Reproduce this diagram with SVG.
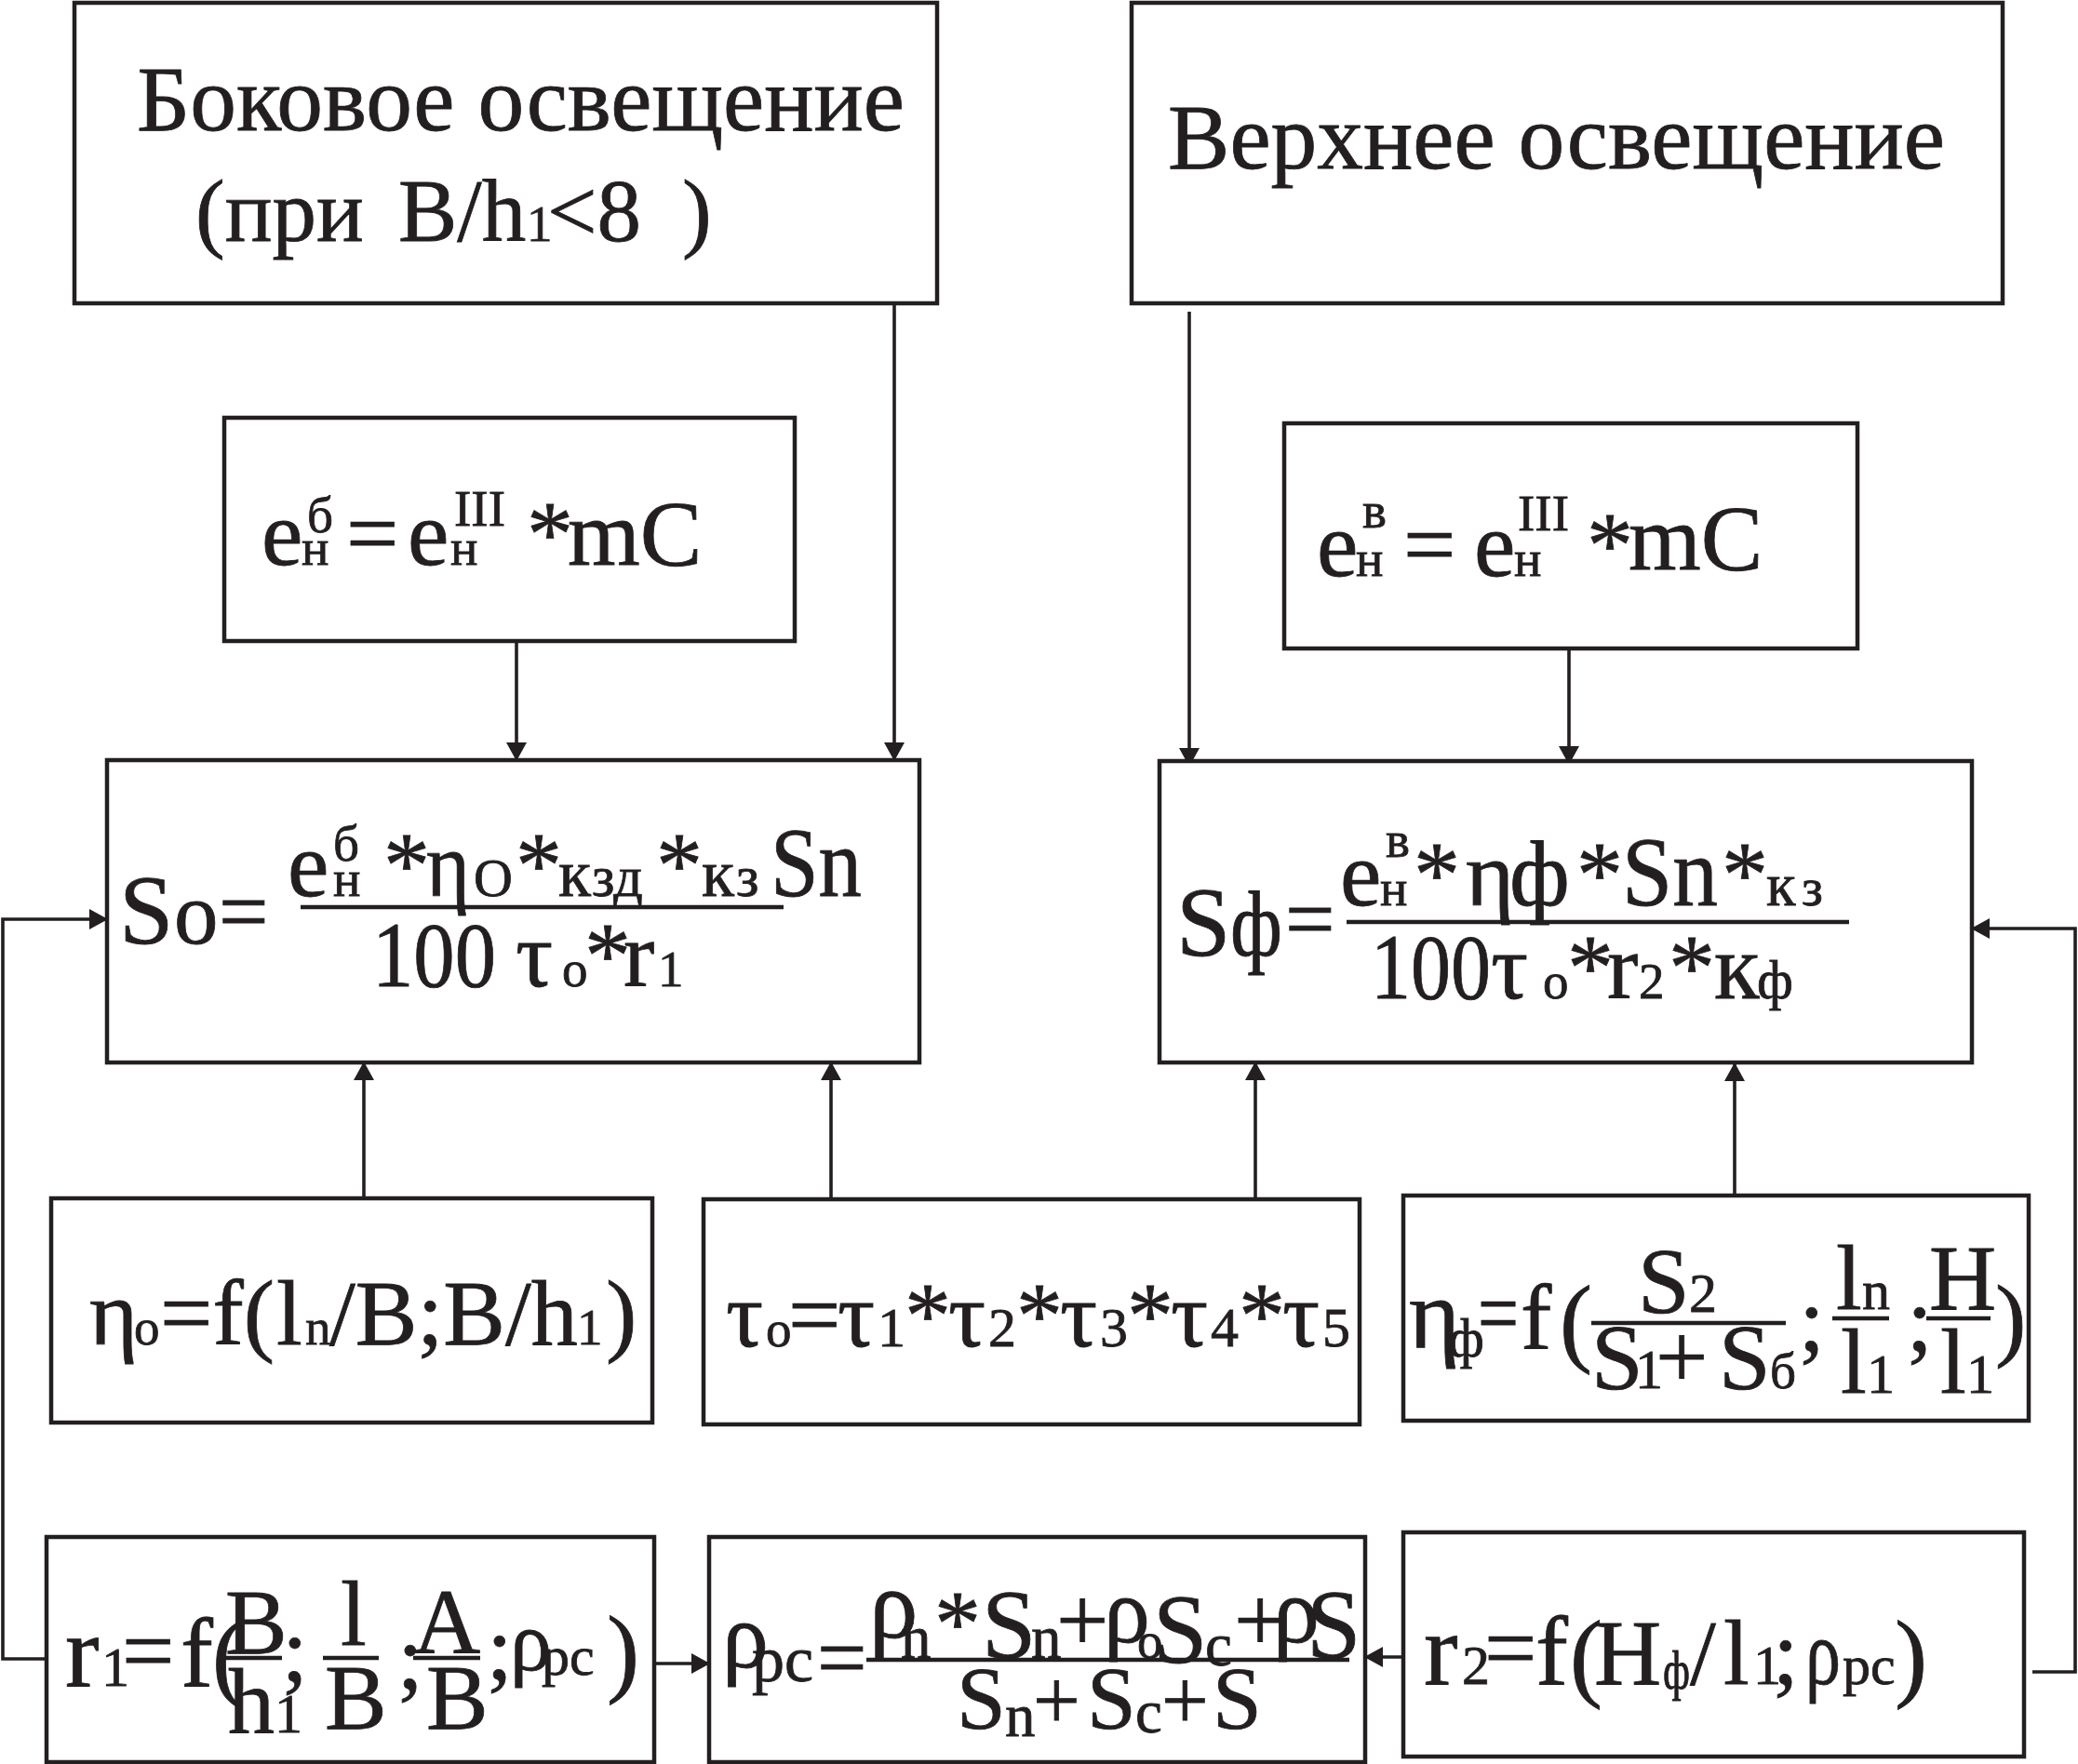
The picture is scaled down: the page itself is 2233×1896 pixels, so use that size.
<svg xmlns="http://www.w3.org/2000/svg" width="2233" height="1896" viewBox="0 0 2233 1896">
<style>
.bx{fill:#fff;stroke:#231f20;stroke-width:4.5}
.t{font-family:"Liberation Serif","Times New Roman",serif;fill:#231f20;stroke:#231f20;stroke-width:0.8}
.c{fill:none;stroke:#231f20;stroke-width:3.6}
.fl{stroke:#231f20;stroke-width:4.5}
</style>
<defs>
<marker id="ah" viewBox="0 0 20 22" markerWidth="20" markerHeight="22" refX="19" refY="11" orient="auto" markerUnits="userSpaceOnUse">
<path d="M0,0 L20,11 L0,22 z" fill="#231f20"/>
</marker>
</defs>
<rect width="2233" height="1896" fill="#fff"/>

<g id="connectors">
<line class="c" x1="961" y1="326" x2="961" y2="817" marker-end="url(#ah)"/>
<line class="c" x1="555" y1="689" x2="555" y2="817" marker-end="url(#ah)"/>
<line class="c" x1="1278" y1="335" x2="1278" y2="823" marker-end="url(#ah)"/>
<line class="c" x1="1686" y1="697" x2="1686" y2="821" marker-end="url(#ah)"/>
<line class="c" x1="391" y1="1288" x2="391" y2="1142" marker-end="url(#ah)"/>
<line class="c" x1="893" y1="1289" x2="893" y2="1142" marker-end="url(#ah)"/>
<line class="c" x1="1349" y1="1289" x2="1349" y2="1142" marker-end="url(#ah)"/>
<line class="c" x1="1864" y1="1285" x2="1864" y2="1143" marker-end="url(#ah)"/>
<polyline class="c" points="50,1783 3,1783 3,988 115,988" marker-end="url(#ah)"/>
<line class="c" x1="703" y1="1788" x2="762" y2="1788" marker-end="url(#ah)"/>
<line class="c" x1="1508" y1="1781" x2="1467" y2="1781" marker-end="url(#ah)"/>
<polyline class="c" points="2184,1797 2230,1797 2230,998 2119,998" marker-end="url(#ah)"/>
</g>

<g id="side-lighting">
<rect class="bx" x="80" y="3" width="927" height="323"/>
<text class="t" x="147" y="140" font-size="100" textLength="825" lengthAdjust="spacingAndGlyphs">Боковое освещение</text>
<text class="t" x="210" y="259" font-size="95">(при</text>
<text class="t" x="428" y="259" font-size="95">B/h</text>
<text class="t" x="566" y="259" font-size="55">1</text>
<text class="t" x="588" y="259" font-size="95">&lt;8</text>
<text class="t" x="733" y="259" font-size="95">)</text>
</g>

<g id="top-lighting">
<rect class="bx" x="1216" y="3" width="936" height="323"/>
<text class="t" x="1255" y="181" font-size="100" textLength="835" lengthAdjust="spacingAndGlyphs">Верхнее освещение</text>
</g>

<g id="e-side">
<rect class="bx" x="241" y="449" width="613" height="240"/>
<text class="t" x="281" y="607" font-size="100">e</text>
<text class="t" x="330" y="572" font-size="55">б</text>
<text class="t" x="324" y="607" font-size="55">н</text>
<text class="t" x="372" y="607" font-size="100">=</text>
<text class="t" x="438" y="607" font-size="100">e</text>
<text class="t" x="488" y="565" font-size="55">III</text>
<text class="t" x="484" y="607" font-size="55">н</text>
<text class="t" x="566" y="607" font-size="100">*</text>
<text class="t" x="610" y="607" font-size="100">mC</text>
</g>

<g id="e-top">
<rect class="bx" x="1380" y="455" width="616" height="242"/>
<text class="t" x="1415" y="619" font-size="100">e</text>
<text class="t" x="1464" y="567" font-size="55">в</text>
<text class="t" x="1457" y="619" font-size="55">н</text>
<text class="t" x="1508" y="619" font-size="100">=</text>
<text class="t" x="1584" y="619" font-size="100">e</text>
<text class="t" x="1631" y="570" font-size="55">III</text>
<text class="t" x="1627" y="619" font-size="55">н</text>
<text class="t" x="1705" y="619" font-size="100">*</text>
<text class="t" x="1750" y="612" font-size="100">mC</text>
</g>

<g id="So">
<rect class="bx" x="115" y="817" width="873" height="325"/>
<text class="t" x="128" y="1014" font-size="105">S</text>
<text class="t" x="187" y="1014" font-size="95">o</text>
<text class="t" x="235" y="1012" font-size="95">=</text>
<text class="t" x="309" y="963" font-size="100">e</text>
<text class="t" x="358" y="925" font-size="55">б</text>
<text class="t" x="358" y="963" font-size="55">н</text>
<text class="t" x="412" y="963" font-size="100">*</text>
<text class="t" x="458" y="963" font-size="100" textLength="47" lengthAdjust="spacingAndGlyphs">η</text>
<text class="t" x="509" y="963" font-size="58">O</text>
<text class="t" x="554" y="963" font-size="100">*</text>
<text class="t" x="600" y="963" font-size="72">к</text>
<text class="t" x="636" y="963" font-size="62">зд</text>
<text class="t" x="705" y="963" font-size="100">*</text>
<text class="t" x="754" y="963" font-size="72">к</text>
<text class="t" x="791" y="963" font-size="62">з</text>
<text class="t" x="828" y="963" font-size="105" textLength="98" lengthAdjust="spacingAndGlyphs">Sn</text>
<line class="fl" x1="323" y1="975" x2="842" y2="975"/>
<text class="t" x="400" y="1060" font-size="100" textLength="133" lengthAdjust="spacingAndGlyphs">100</text>
<text class="t" x="554" y="1060" font-size="100">τ</text>
<text class="t" x="604" y="1060" font-size="55">o</text>
<text class="t" x="628" y="1060" font-size="100">*</text>
<text class="t" x="670" y="1060" font-size="100">r</text>
<text class="t" x="707" y="1060" font-size="55">1</text>
</g>

<g id="Sf">
<rect class="bx" x="1246" y="818" width="873" height="324"/>
<text class="t" x="1264" y="1027" font-size="105">S</text>
<text class="t" x="1322" y="1027" font-size="100" textLength="56" lengthAdjust="spacingAndGlyphs">ф</text>
<text class="t" x="1381" y="1020" font-size="95">=</text>
<text class="t" x="1440" y="973" font-size="100">e</text>
<text class="t" x="1489" y="921" font-size="55">в</text>
<text class="t" x="1483" y="973" font-size="55">н</text>
<text class="t" x="1519" y="973" font-size="100">*</text>
<text class="t" x="1575" y="973" font-size="100">η</text>
<text class="t" x="1622" y="973" font-size="100">ф</text>
<text class="t" x="1694" y="973" font-size="100">*</text>
<text class="t" x="1743" y="973" font-size="105" textLength="103" lengthAdjust="spacingAndGlyphs">Sn</text>
<text class="t" x="1850" y="973" font-size="100">*</text>
<text class="t" x="1898" y="973" font-size="65">к</text>
<text class="t" x="1936" y="973" font-size="58">з</text>
<line class="fl" x1="1447" y1="991" x2="1987" y2="991"/>
<text class="t" x="1473" y="1073" font-size="100" textLength="129" lengthAdjust="spacingAndGlyphs">100</text>
<text class="t" x="1602" y="1073" font-size="100">τ</text>
<text class="t" x="1658" y="1073" font-size="55">o</text>
<text class="t" x="1684" y="1073" font-size="100">*</text>
<text class="t" x="1727" y="1073" font-size="100">r</text>
<text class="t" x="1761" y="1073" font-size="55">2</text>
<text class="t" x="1793" y="1073" font-size="100">*</text>
<text class="t" x="1842" y="1073" font-size="100">к</text>
<text class="t" x="1888" y="1073" font-size="60">ф</text>
</g>

<g id="eta-o">
<rect class="bx" x="55" y="1288" width="646" height="241"/>
<text class="t" x="96" y="1445" font-size="100">η</text>
<text class="t" x="144" y="1445" font-size="55">o</text>
<text class="t" x="172" y="1445" font-size="100">=f(</text>
<text class="t" x="297" y="1445" font-size="100">l</text>
<text class="t" x="328" y="1445" font-size="55">n</text>
<text class="t" x="354" y="1445" font-size="100">/B;B/h</text>
<text class="t" x="620" y="1445" font-size="55">1</text>
<text class="t" x="651" y="1445" font-size="100">)</text>
</g>

<g id="tau-o">
<rect class="bx" x="756" y="1289" width="705" height="242"/>
<text class="t" x="780" y="1447" font-size="100">τ</text>
<text class="t" x="823" y="1447" font-size="55">o</text>
<text class="t" x="847" y="1447" font-size="100">=</text>
<text class="t" x="900" y="1447" font-size="100">τ</text>
<text class="t" x="943" y="1447" font-size="60">1</text>
<text class="t" x="972" y="1447" font-size="100">*</text>
<text class="t" x="1019" y="1447" font-size="100">τ</text>
<text class="t" x="1062" y="1447" font-size="60">2</text>
<text class="t" x="1092" y="1447" font-size="100">*</text>
<text class="t" x="1139" y="1447" font-size="100">τ</text>
<text class="t" x="1182" y="1447" font-size="60">3</text>
<text class="t" x="1211" y="1447" font-size="100">*</text>
<text class="t" x="1258" y="1447" font-size="100">τ</text>
<text class="t" x="1301" y="1447" font-size="60">4</text>
<text class="t" x="1331" y="1447" font-size="100">*</text>
<text class="t" x="1378" y="1447" font-size="100">τ</text>
<text class="t" x="1421" y="1447" font-size="60">5</text>
</g>

<g id="eta-f">
<rect class="bx" x="1508" y="1285" width="672" height="242"/>
<text class="t" x="1514" y="1448" font-size="105">η</text>
<text class="t" x="1556" y="1458" font-size="60">ф</text>
<text class="t" x="1588" y="1445" font-size="100" textLength="44" lengthAdjust="spacingAndGlyphs">=</text>
<text class="t" x="1634" y="1450" font-size="100">f</text>
<text class="t" x="1676" y="1455" font-size="105">(</text>
<text class="t" x="1760" y="1410" font-size="100">S</text>
<text class="t" x="1815" y="1410" font-size="60">2</text>
<line class="fl" x1="1710" y1="1422" x2="1919" y2="1422"/>
<text class="t" x="1710" y="1492" font-size="100">S</text>
<text class="t" x="1757" y="1492" font-size="60">1</text>
<text class="t" x="1779" y="1492" font-size="100">+</text>
<text class="t" x="1847" y="1492" font-size="100">S</text>
<text class="t" x="1902" y="1492" font-size="55">б</text>
<text class="t" x="1933" y="1452" font-size="100">;</text>
<text class="t" x="1973" y="1407" font-size="100">l</text>
<text class="t" x="2001" y="1407" font-size="60">n</text>
<line class="fl" x1="1969" y1="1417" x2="2030" y2="1417"/>
<text class="t" x="1978" y="1497" font-size="100">l</text>
<text class="t" x="2006" y="1497" font-size="60">1</text>
<text class="t" x="2049" y="1452" font-size="100">;</text>
<text class="t" x="2073" y="1407" font-size="100">H</text>
<line class="fl" x1="2070" y1="1417" x2="2139" y2="1417"/>
<text class="t" x="2085" y="1497" font-size="100">l</text>
<text class="t" x="2113" y="1497" font-size="60">1</text>
<text class="t" x="2144" y="1450" font-size="100">)</text>
</g>

<g id="r1">
<rect class="bx" x="50" y="1652" width="653" height="242"/>
<text class="t" x="70" y="1812" font-size="110">r</text>
<text class="t" x="109" y="1812" font-size="60">1</text>
<text class="t" x="131" y="1808" font-size="100">=</text>
<text class="t" x="194" y="1812" font-size="105">f</text>
<text class="t" x="228" y="1815" font-size="105">(</text>
<text class="t" x="242" y="1777" font-size="100">B</text>
<line class="fl" x1="242" y1="1782" x2="303" y2="1782"/>
<text class="t" x="245" y="1862" font-size="100">h</text>
<text class="t" x="295" y="1862" font-size="60">1</text>
<text class="t" x="303" y="1807" font-size="100">;</text>
<text class="t" x="366" y="1768" font-size="100">l</text>
<line class="fl" x1="347" y1="1782" x2="407" y2="1782"/>
<text class="t" x="349" y="1858" font-size="100">B</text>
<text class="t" x="427" y="1815" font-size="100">;</text>
<text class="t" x="444" y="1777" font-size="100">A</text>
<line class="fl" x1="444" y1="1782" x2="516" y2="1782"/>
<text class="t" x="458" y="1858" font-size="100">B</text>
<text class="t" x="523" y="1805" font-size="100">;</text>
<text class="t" x="548" y="1795" font-size="90">ρ</text>
<text class="t" x="582" y="1800" font-size="60">pc</text>
<text class="t" x="652" y="1810" font-size="105">)</text>
</g>

<g id="rho">
<rect class="bx" x="762" y="1652" width="705" height="242"/>
<text class="t" x="776" y="1792" font-size="100">ρ</text>
<text class="t" x="808" y="1807" font-size="70">pc</text>
<text class="t" x="878" y="1814" font-size="95">=</text>
<text class="t" x="934" y="1760" font-size="105">ρ</text>
<text class="t" x="968" y="1782" font-size="65">n</text>
<text class="t" x="1004" y="1778" font-size="100">*</text>
<text class="t" x="1055" y="1782" font-size="105">S</text>
<text class="t" x="1108" y="1782" font-size="65">n</text>
<text class="t" x="1135" y="1775" font-size="100">+</text>
<text class="t" x="1186" y="1765" font-size="100">ρ</text>
<text class="t" x="1222" y="1782" font-size="55">o</text>
<text class="t" x="1239" y="1787" font-size="105">S</text>
<text class="t" x="1295" y="1790" font-size="65">c</text>
<text class="t" x="1326" y="1775" font-size="100">+</text>
<text class="t" x="1368" y="1765" font-size="100">ρ</text>
<text class="t" x="1404" y="1782" font-size="105">S</text>
<line class="fl" x1="931" y1="1784" x2="1450" y2="1784"/>
<text class="t" x="1028" y="1858" font-size="95">S</text>
<text class="t" x="1080" y="1866" font-size="65">n</text>
<text class="t" x="1110" y="1858" font-size="90">+</text>
<text class="t" x="1168" y="1858" font-size="95">S</text>
<text class="t" x="1220" y="1862" font-size="65">c</text>
<text class="t" x="1248" y="1858" font-size="90">+</text>
<text class="t" x="1303" y="1858" font-size="95">S</text>
</g>

<g id="r2">
<rect class="bx" x="1508" y="1647" width="667" height="241"/>
<text class="t" x="1530" y="1810" font-size="110">r</text>
<text class="t" x="1571" y="1810" font-size="60">2</text>
<text class="t" x="1595" y="1805" font-size="100">=</text>
<text class="t" x="1650" y="1810" font-size="105">f</text>
<text class="t" x="1687" y="1815" font-size="105">(</text>
<text class="t" x="1713" y="1810" font-size="100">H</text>
<text class="t" x="1787" y="1815" font-size="60" textLength="29" lengthAdjust="spacingAndGlyphs">ф</text>
<text class="t" x="1816" y="1810" font-size="100">/</text>
<text class="t" x="1852" y="1810" font-size="100">l</text>
<text class="t" x="1884" y="1810" font-size="60">1</text>
<text class="t" x="1905" y="1810" font-size="100">;</text>
<text class="t" x="1940" y="1810" font-size="100" textLength="38" lengthAdjust="spacingAndGlyphs">ρ</text>
<text class="t" x="1980" y="1810" font-size="60">pc</text>
<text class="t" x="2036" y="1815" font-size="105">)</text>
</g>
</svg>
